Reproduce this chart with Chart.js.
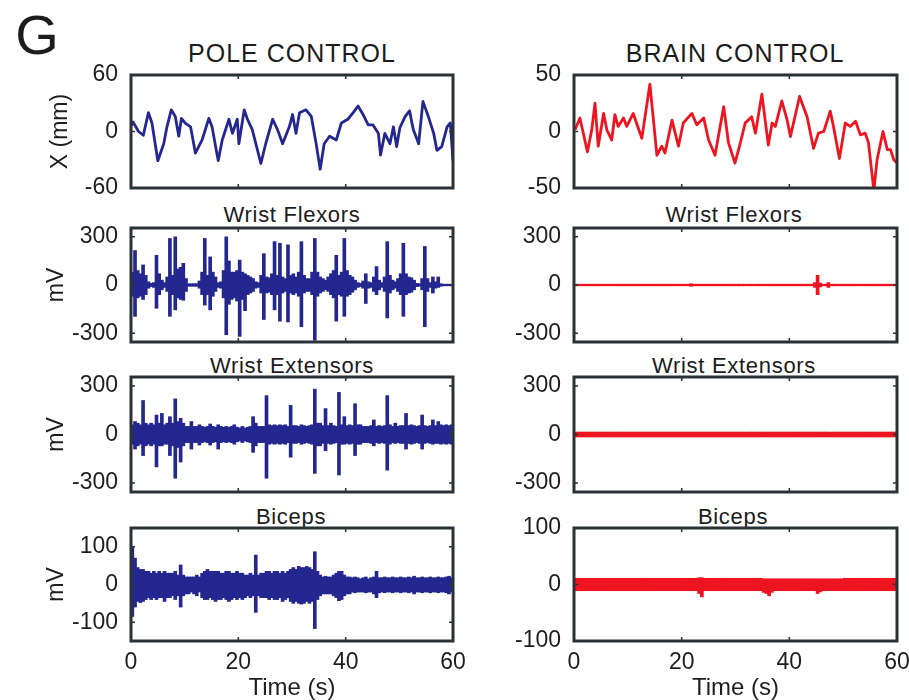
<!DOCTYPE html>
<html>
<head>
<meta charset="utf-8">
<script src="https://cdn.jsdelivr.net/npm/chart.js@4.4.1/dist/chart.umd.min.js"></script>
<style>
  html, body { margin: 0; padding: 0; background: #fff; }
  #fig { position: relative; width: 909px; height: 700px; overflow: hidden; background: #fff;
         font-family: "Liberation Sans", Arial, sans-serif; color: #1c1c1c; }
  #fig canvas { position: absolute; }
  .lbl { position: absolute; white-space: nowrap; transform: translate(-50%, -50%); line-height: 1; }
  .sub { font-size: 22px; letter-spacing: 0.7px; }
  .head { font-size: 25px; letter-spacing: 1px; }
</style>
</head>
<body>
<div id="fig">
  <div class="lbl" style="left:37px;top:35px;font-size:56px">G</div>
  <div class="lbl head" style="left:292px;top:53px">POLE CONTROL</div>
  <div class="lbl head" style="left:735px;top:53px">BRAIN CONTROL</div>
  <div class="lbl sub" style="left:292px;top:215px">Wrist Flexors</div>
  <div class="lbl sub" style="left:734px;top:215px">Wrist Flexors</div>
  <div class="lbl sub" style="left:292px;top:366px">Wrist Extensors</div>
  <div class="lbl sub" style="left:734px;top:366px">Wrist Extensors</div>
  <div class="lbl sub" style="left:291px;top:517px">Biceps</div>
  <div class="lbl sub" style="left:733px;top:517px">Biceps</div>
</div>
<script>
const timeTicks = [0, 20, 40, 60];

// hand position, pole control (s, mm)
const poleT = [0, 0.4, 1.4, 2.3, 3.25, 3.9, 5, 6.1, 6.7, 7.5, 8.25, 8.9, 9.4, 10.1, 11.1, 12, 13.25, 14.5, 15.1, 16.25,
  17, 18.25, 18.9, 19.8, 20.1, 21.1, 21.7, 22.6, 24.2, 25.1, 26.4, 27.3, 28.25, 29.5, 30.1, 30.75, 31.4, 32.6, 33.6, 34.5,
  35.25, 36, 37, 38.25, 39.2, 40.4, 41.4, 42.3, 43.25, 44.2, 45.1, 46.1, 46.5, 47.3, 48.25, 48.9, 49.5, 50.1, 51.1, 51.9,
  52.6, 53.6, 54.4, 55.4, 56.4, 57, 57.9, 58.9, 59.5, 60];
const poleX = [6, 10, 0, -4, 20, 9, -31, -13, 5, 23, 16, -5, 14, 9, 5, -23, -9, 14, 5, -31,
  -9, 13, -2, 13, -13, 23, 13, 2, -34, -13, 13, 2, -13, 5, 18, -2, 20, 23, 16, -13,
  -40, -13, -5, -9, 9, 13, 20, 27, 18, 7, 7, -2, -25, -2, -13, 5, -16, 4, 16, 22,
  2, -13, 32, 16, -2, -20, -16, 5, 9, -31];

// hand position, brain control (s, mm)
const brainT = [0.2, 1.1, 2.5, 3.3, 3.9, 4.5, 5.5, 6.1, 7, 7.6, 8.2, 9.2, 9.8, 11, 12.6, 14.1, 15.4, 16.3, 16.9, 18.2,
  19.4, 20.3, 21.9, 22.8, 24.1, 25, 26.2, 27.8, 28.7, 29.9, 30.9, 31.8, 33, 33.7, 34.9, 36.1, 36.8, 37.4, 38.6, 39.6,
  40.2, 41.9, 43.3, 44.5, 45.4, 46.4, 47.6, 48.2, 49.3, 50.4, 51.3, 52.3, 53.2, 54.1, 54.7, 55.7, 56.3, 57.4, 58.2, 58.8,
  59.4, 60];
const brainX = [1.5, 12, -18, 1.5, 25, -13, 16, 1.5, -7.5, 15, 4.5, 12, 4.5, 16, -6, 42, -21, -13, -19, 10,
  -13, 7.5, 16, 6, 12, -7.5, -21, 22, -10, -28, -10, 7.5, 13, -1.5, 33, -12, 7.5, 4.5, 27, 10,
  -4.5, 31, 13, -15, -1.5, 0, 18, 4.5, -24, 7.5, 4.5, 9, -3, -1.5, -10, -52, -25, 0, -16, -16,
  -25, -28];

// EMG envelopes in 0.5 s bins (bin centres, s)
const binT = [
  0.25, 0.75, 1.25, 1.75, 2.25, 2.75, 3.25, 3.75, 4.25, 4.75,
  5.25, 5.75, 6.25, 6.75, 7.25, 7.75, 8.25, 8.75, 9.25, 9.75,
  10.25, 10.75, 11.25, 11.75, 12.25, 12.75, 13.25, 13.75, 14.25, 14.75,
  15.25, 15.75, 16.25, 16.75, 17.25, 17.75, 18.25, 18.75, 19.25, 19.75,
  20.25, 20.75, 21.25, 21.75, 22.25, 22.75, 23.25, 23.75, 24.25, 24.75,
  25.25, 25.75, 26.25, 26.75, 27.25, 27.75, 28.25, 28.75, 29.25, 29.75,
  30.25, 30.75, 31.25, 31.75, 32.25, 32.75, 33.25, 33.75, 34.25, 34.75,
  35.25, 35.75, 36.25, 36.75, 37.25, 37.75, 38.25, 38.75, 39.25, 39.75,
  40.25, 40.75, 41.25, 41.75, 42.25, 42.75, 43.25, 43.75, 44.25, 44.75,
  45.25, 45.75, 46.25, 46.75, 47.25, 47.75, 48.25, 48.75, 49.25, 49.75,
  50.25, 50.75, 51.25, 51.75, 52.25, 52.75, 53.25, 53.75, 54.25, 54.75,
  55.25, 55.75, 56.25, 56.75, 57.25, 57.75, 58.25, 58.75, 59.25, 59.75];

// pole control, wrist flexors (mV)
const flexHi = [
  80, 215, 90, 70, 125, 60, 20, 10, 15, 185,
  70, 30, 15, 50, 290, 60, 300, 100, 110, 135,
  40, 8, 8, 8, 8, 25, 80, 290, 60, 175,
  80, 50, 15, 20, 90, 300, 150, 80, 80, 90,
  155, 80, 70, 60, 50, 40, 20, 15, 60, 195,
  50, 45, 70, 270, 60, 260, 50, 40, 250, 60,
  70, 50, 80, 270, 60, 40, 40, 80, 290, 80,
  50, 40, 30, 50, 70, 90, 185, 60, 80, 290,
  90, 60, 50, 30, 15, 10, 25, 70, 20, 15,
  50, 115, 30, 15, 50, 270, 60, 30, 20, 40,
  70, 260, 70, 50, 45, 30, 10, 8, 40, 240,
  40, 15, 50, 20, 50, 8, 5, 5, 5, 5];
const flexLo = [
  -70, -195, -80, -70, -90, -60, -20, -10, -15, -145,
  -60, -30, -15, -40, -195, -60, -155, -80, -90, -95,
  -40, -8, -8, -8, -8, -20, -60, -125, -60, -155,
  -70, -40, -15, -20, -80, -310, -120, -90, -80, -100,
  -320, -90, -160, -60, -50, -40, -20, -15, -50, -215,
  -50, -45, -60, -155, -60, -225, -50, -40, -230, -50,
  -60, -50, -70, -260, -50, -40, -40, -60, -345, -70,
  -50, -40, -30, -40, -60, -80, -225, -60, -70, -195,
  -70, -60, -45, -30, -15, -10, -20, -115, -20, -15,
  -40, -60, -30, -15, -40, -205, -50, -30, -20, -40,
  -60, -195, -60, -50, -45, -30, -10, -8, -30, -260,
  -40, -15, -50, -20, -15, -8, -5, -5, -5, -5];

// pole control, wrist extensors (mV)
const extHi = [
  60, 80, 70, 60, 210, 70, 60, 70, 60, 120,
  70, 130, 60, 70, 110, 70, 220, 80, 100, 70,
  50, 50, 80, 50, 50, 60, 50, 45, 50, 65,
  50, 45, 60, 50, 45, 50, 45, 50, 60, 45,
  40, 50, 40, 45, 50, 110, 70, 50, 50, 50,
  240, 60, 55, 60, 55, 60, 55, 60, 50, 180,
  55, 55, 50, 60, 55, 50, 55, 60, 280, 70,
  70, 55, 160, 55, 70, 55, 50, 260, 60, 110,
  55, 60, 55, 190, 60, 60, 50, 50, 50, 55,
  90, 50, 55, 50, 55, 240, 60, 50, 70, 50,
  55, 55, 130, 55, 60, 55, 50, 55, 120, 55,
  50, 55, 90, 55, 80, 60, 55, 60, 55, 60];
const extLo = [
  -60, -90, -70, -60, -130, -70, -60, -70, -60, -200,
  -70, -70, -60, -60, -130, -70, -270, -80, -170, -70,
  -50, -50, -90, -50, -50, -65, -50, -45, -50, -65,
  -50, -45, -90, -50, -45, -50, -45, -50, -60, -45,
  -40, -50, -40, -45, -50, -110, -70, -50, -50, -50,
  -270, -60, -55, -60, -55, -60, -55, -60, -50, -140,
  -55, -55, -50, -60, -55, -50, -55, -60, -240, -70,
  -70, -55, -100, -55, -60, -55, -50, -250, -60, -60,
  -55, -60, -55, -130, -60, -60, -50, -50, -50, -55,
  -70, -50, -55, -50, -55, -220, -60, -50, -55, -50,
  -55, -55, -90, -55, -60, -55, -50, -55, -90, -55,
  -50, -55, -60, -55, -55, -60, -55, -60, -55, -60];

// pole control, biceps (mV)
const bicHi = [
  100, 70, 45, 40, 40, 35, 35, 30, 35, 30,
  35, 30, 35, 30, 30, 30, 35, 25, 52, 25,
  20, 20, 20, 20, 25, 20, 30, 35, 40, 35,
  35, 35, 35, 30, 30, 35, 35, 30, 30, 35,
  30, 30, 25, 25, 30, 25, 78, 25, 30, 30,
  35, 35, 30, 35, 35, 30, 35, 30, 35, 40,
  45, 40, 48, 45, 45, 48, 45, 40, 87, 35,
  25, 20, 22, 20, 20, 25, 30, 35, 35, 25,
  20, 20, 18, 20, 18, 15, 18, 20, 15, 18,
  20, 35, 18, 18, 20, 18, 18, 20, 18, 18,
  20, 18, 18, 20, 18, 22, 18, 18, 20, 18,
  18, 20, 18, 18, 20, 18, 18, 20, 22, 18];
const bicLo = [
  -85, -60, -45, -48, -45, -40, -35, -40, -35, -40,
  -35, -35, -45, -35, -35, -30, -40, -30, -60, -30,
  -25, -25, -20, -25, -30, -20, -35, -40, -40, -35,
  -40, -45, -40, -40, -35, -40, -45, -40, -35, -40,
  -35, -40, -35, -30, -35, -30, -74, -30, -35, -35,
  -35, -40, -35, -40, -40, -35, -45, -40, -35, -45,
  -50, -45, -50, -52, -50, -45, -50, -45, -117, -40,
  -30, -25, -25, -25, -25, -30, -35, -43, -40, -30,
  -25, -25, -20, -22, -20, -20, -20, -22, -20, -20,
  -25, -35, -22, -20, -22, -20, -20, -22, -20, -20,
  -22, -20, -20, -22, -20, -25, -20, -20, -22, -20,
  -20, -22, -20, -20, -22, -20, -20, -22, -25, -20];

// brain control, wrist flexors (mV)
const bFlexHi = [
  5, 5, 5, 5, 5, 5, 5, 5, 5, 5,
  5, 5, 5, 5, 5, 5, 5, 5, 5, 5,
  5, 5, 5, 5, 5, 5, 5, 5, 5, 5,
  5, 5, 5, 5, 5, 5, 5, 5, 5, 5,
  5, 5, 5, 8, 5, 5, 5, 5, 5, 5,
  5, 5, 5, 5, 5, 5, 5, 5, 5, 5,
  5, 5, 5, 5, 5, 5, 5, 5, 5, 5,
  5, 5, 5, 5, 5, 5, 5, 5, 5, 5,
  5, 5, 5, 5, 5, 5, 5, 5, 5, 15,
  60, 12, 5, 5, 15, 5, 5, 5, 5, 5,
  5, 5, 5, 5, 5, 5, 5, 5, 5, 5,
  5, 5, 5, 5, 5, 5, 5, 5, 5, 5];
const bFlexLo = [
  -5, -5, -5, -5, -5, -5, -5, -5, -5, -5,
  -5, -5, -5, -5, -5, -5, -5, -5, -5, -5,
  -5, -5, -5, -5, -5, -5, -5, -5, -5, -5,
  -5, -5, -5, -5, -5, -5, -5, -5, -5, -5,
  -5, -5, -5, -8, -5, -5, -5, -5, -5, -5,
  -5, -5, -5, -5, -5, -5, -5, -5, -5, -5,
  -5, -5, -5, -5, -5, -5, -5, -5, -5, -5,
  -5, -5, -5, -5, -5, -5, -5, -5, -5, -5,
  -5, -5, -5, -5, -5, -5, -5, -5, -5, -15,
  -60, -12, -5, -5, -15, -5, -5, -5, -5, -5,
  -5, -5, -5, -5, -5, -5, -5, -5, -5, -5,
  -5, -5, -5, -5, -5, -5, -5, -5, -5, -5];

// brain control, wrist extensors (mV)
const bExtHi = [
  15, 15, 15, 15, 15, 15, 15, 15, 15, 15,
  15, 15, 15, 15, 15, 15, 15, 15, 15, 15,
  15, 15, 15, 15, 15, 15, 15, 15, 15, 15,
  15, 15, 15, 15, 15, 15, 15, 15, 15, 15,
  15, 15, 15, 15, 15, 15, 15, 15, 15, 15,
  15, 15, 15, 15, 15, 15, 15, 15, 15, 15,
  15, 15, 15, 15, 15, 15, 15, 15, 15, 15,
  15, 15, 15, 15, 15, 15, 15, 15, 15, 15,
  15, 15, 15, 15, 15, 15, 15, 15, 15, 15,
  15, 15, 15, 15, 15, 15, 15, 15, 15, 15,
  15, 15, 15, 15, 15, 15, 15, 15, 15, 15,
  15, 15, 15, 15, 15, 15, 15, 15, 15, 15];
const bExtLo = [
  -15, -15, -15, -15, -15, -15, -15, -15, -15, -15,
  -15, -15, -15, -15, -15, -15, -15, -15, -15, -15,
  -15, -15, -15, -15, -15, -15, -15, -15, -15, -15,
  -15, -15, -15, -15, -15, -15, -15, -15, -15, -15,
  -15, -15, -15, -15, -15, -15, -15, -15, -15, -15,
  -15, -15, -15, -15, -15, -15, -15, -15, -15, -15,
  -15, -15, -15, -15, -15, -15, -15, -15, -15, -15,
  -15, -15, -15, -15, -15, -15, -15, -15, -15, -15,
  -15, -15, -15, -15, -15, -15, -15, -15, -15, -15,
  -15, -15, -15, -15, -15, -15, -15, -15, -15, -15,
  -15, -15, -15, -15, -15, -15, -15, -15, -15, -15,
  -15, -15, -15, -15, -15, -15, -15, -15, -15, -15];

// brain control, biceps (mV)
const bBicHi = [
  11, 11, 11, 11, 11, 11, 11, 11, 11, 11,
  11, 11, 11, 11, 11, 11, 11, 11, 11, 11,
  11, 11, 11, 11, 11, 11, 11, 11, 11, 11,
  11, 11, 11, 11, 11, 11, 11, 11, 11, 11,
  11, 11, 11, 11, 11, 11, 12, 12, 11, 11,
  11, 11, 11, 11, 11, 11, 11, 11, 11, 11,
  11, 11, 11, 11, 11, 11, 11, 11, 11, 11,
  10, 10, 10, 10, 10, 10, 10, 10, 10, 10,
  10, 10, 10, 10, 10, 10, 10, 10, 10, 10,
  10, 10, 10, 10, 10, 10, 10, 10, 10, 10,
  11, 11, 11, 11, 11, 11, 11, 11, 11, 11,
  11, 11, 11, 11, 11, 11, 11, 11, 11, 11];
const bBicLo = [
  -11, -11, -11, -11, -11, -11, -11, -11, -11, -11,
  -11, -11, -11, -11, -11, -11, -11, -11, -11, -11,
  -11, -11, -11, -11, -11, -11, -11, -11, -11, -11,
  -11, -11, -11, -11, -11, -11, -11, -11, -11, -11,
  -11, -11, -11, -11, -11, -11, -16, -22, -11, -11,
  -11, -11, -11, -11, -11, -11, -11, -11, -11, -11,
  -11, -11, -11, -11, -11, -11, -11, -11, -11, -11,
  -14, -16, -20, -14, -11, -11, -11, -11, -11, -11,
  -11, -11, -11, -11, -11, -11, -11, -11, -11, -11,
  -16, -13, -11, -11, -11, -11, -11, -11, -11, -11,
  -11, -11, -11, -11, -11, -11, -11, -11, -11, -11,
  -11, -11, -11, -11, -11, -11, -11, -11, -11, -11];

const FONT = '"Liberation Sans", Arial, sans-serif';
const INK = '#1e1e1e';
const BLUE = '#24278f';
const RED = '#ee1420';

// matlab style box with small inward ticks
const boxPlugin = {
  id: 'box',
  afterDatasetsDraw(chart) {
    const { ctx, chartArea: a, scales } = chart;
    ctx.save();
    ctx.strokeStyle = '#2a3236';
    ctx.lineWidth = 1.5;
    ctx.beginPath();
    for (const t of timeTicks) {
      const px = scales.x.getPixelForValue(t);
      ctx.moveTo(px, a.bottom); ctx.lineTo(px, a.bottom - 4);
      ctx.moveTo(px, a.top); ctx.lineTo(px, a.top + 4);
    }
    for (const tk of scales.y.ticks) {
      const py = scales.y.getPixelForValue(tk.value);
      ctx.moveTo(a.left, py); ctx.lineTo(a.left + 4, py);
      ctx.moveTo(a.right, py); ctx.lineTo(a.right - 4, py);
    }
    ctx.stroke();
    ctx.lineWidth = 3;
    ctx.strokeRect(a.left, a.top, a.right - a.left, a.bottom - a.top);
    ctx.restore();
  }
};

const fig = document.getElementById('fig');
const COLS = [{ x: 131, w: 322 }, { x: 574, w: 323 }];
const ROWS = [{ y: 75, h: 113 }, { y: 228, h: 114 }, { y: 377, h: 115 }, { y: 528, h: 113 }];

function lineSet(ts, vs, color) {
  return {
    type: 'line',
    data: ts.map((t, i) => ({ x: t, y: vs[i] })),
    borderColor: color, borderWidth: 2.8, pointRadius: 0, tension: 0,
    borderJoinStyle: 'round'
  };
}

function emgSet(hi, lo, color) {
  return {
    type: 'bar',
    data: binT.map((t, i) => ({ x: t, y: [lo[i], hi[i]] })),
    backgroundColor: color, borderWidth: 0, barThickness: 3
  };
}

function panel(col, row, dataset, range, yTicks, yTitle, yTitlePad) {
  const { x, w } = COLS[col];
  const { y, h } = ROWS[row];
  const bottom = row === 3;
  const xH = bottom ? 700 - (y + h) : 0;
  const W = 100 + w + 18;
  const H = 14 + h + (bottom ? xH : 14);
  const cv = document.createElement('canvas');
  cv.width = W; cv.height = H;
  cv.style.left = (x - 100) + 'px';
  cv.style.top = (y - 14) + 'px';
  cv.style.width = W + 'px';
  cv.style.height = H + 'px';
  fig.appendChild(cv);

  new Chart(cv, {
    type: dataset.type,
    data: { datasets: [dataset] },
    options: {
      responsive: false,
      animation: false,
      layout: { padding: { left: 0, top: 14, right: 18, bottom: bottom ? 0 : 14 } },
      plugins: { legend: { display: false }, tooltip: { enabled: false } },
      scales: {
        x: {
          type: 'linear', min: 0, max: 60, offset: false, display: bottom,
          grid: { display: false }, border: { display: false },
          afterBuildTicks: s => { s.ticks = timeTicks.map(v => ({ value: v })); },
          afterFit: s => { s.height = xH; s.paddingLeft = 0; s.paddingRight = 0; },
          ticks: { padding: 0, color: INK, font: { family: FONT, size: 23 }, maxRotation: 0, autoSkip: false,
                   callback: v => String(v) },
          title: { display: bottom, text: 'Time (s)', padding: 0, color: INK,
                   font: { family: FONT, size: 24, lineHeight: 1 } }
        },
        y: {
          min: -range, max: range,
          grid: { display: false }, border: { display: false },
          afterBuildTicks: s => { s.ticks = yTicks.map(v => ({ value: v })); },
          afterFit: s => { s.width = 100; s.paddingTop = 0; s.paddingBottom = 0; },
          ticks: { padding: 5, color: INK, font: { family: FONT, size: 23 }, autoSkip: false,
                   callback: v => String(v) },
          title: { display: !!yTitle, text: yTitle || '', color: INK,
                   padding: { top: yTitlePad || 0, bottom: 0 },
                   font: { family: FONT, size: 23, lineHeight: 1 } }
        }
      }
    },
    plugins: [boxPlugin]
  });
}

// pole control column
panel(0, 0, lineSet(poleT, poleX, BLUE), 60, [-60, 0, 60], 'X (mm)', 18);
panel(0, 1, emgSet(flexHi, flexLo, BLUE), 355, [-300, 0, 300], 'mV', 14);
panel(0, 2, emgSet(extHi, extLo, BLUE), 355, [-300, 0, 300], 'mV', 14);
panel(0, 3, emgSet(bicHi, bicLo, BLUE), 150, [-100, 0, 100], 'mV', 14);

// brain control column
panel(1, 0, lineSet(brainT, brainX, RED), 50, [-50, 0, 50]);
panel(1, 1, emgSet(bFlexHi, bFlexLo, RED), 355, [-300, 0, 300]);
panel(1, 2, emgSet(bExtHi, bExtLo, RED), 355, [-300, 0, 300]);
panel(1, 3, emgSet(bBicHi, bBicLo, RED), 100, [-100, 0, 100]);
</script>
</body>
</html>
